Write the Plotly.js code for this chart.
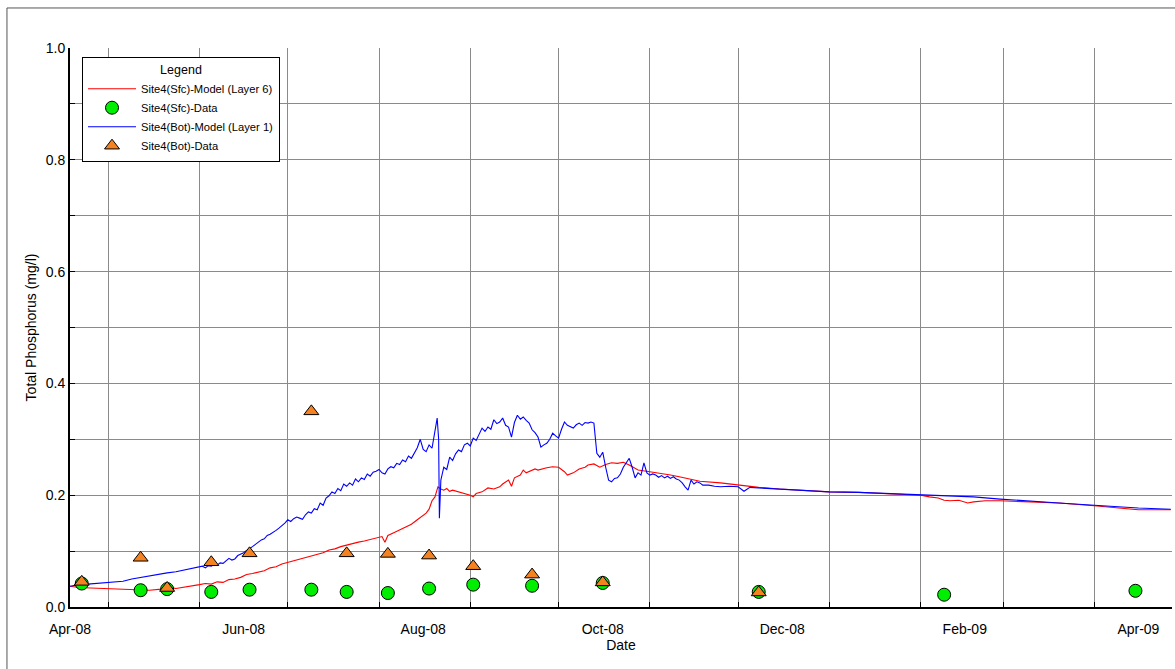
<!DOCTYPE html>
<html>
<head>
<meta charset="utf-8">
<script src="https://cdn.plot.ly/plotly-3.0.1.min.js"></script>
<style>html,body{margin:0;padding:0;background:#fff;}#chart{width:1175px;height:669px;}</style>
</head>
<body>
<div id="chart"></div>
<script>
// ---- Surface model (Layer 6) ----
const sfcModelDates = ['2008-04-18','2008-04-21','2008-04-25','2008-04-30','2008-05-05','2008-05-10','2008-05-15','2008-05-19','2008-05-21','2008-05-24','2008-05-28',
 '2008-06-01','2008-06-03','2008-06-05','2008-06-07','2008-06-09','2008-06-11','2008-06-13','2008-06-15','2008-06-17','2008-06-19','2008-06-21','2008-06-23','2008-06-25','2008-06-27','2008-06-29',
 '2008-07-01','2008-07-03','2008-07-05','2008-07-07','2008-07-09','2008-07-11','2008-07-13','2008-07-15','2008-07-17','2008-07-19','2008-07-21','2008-07-23','2008-07-25','2008-07-27','2008-07-29','2008-07-31',
 '2008-08-02','2008-08-03','2008-08-04','2008-08-06','2008-08-08','2008-08-10','2008-08-12','2008-08-14','2008-08-16','2008-08-17','2008-08-18','2008-08-19','2008-08-20','2008-08-21','2008-08-22','2008-08-23','2008-08-24','2008-08-25','2008-08-26','2008-08-28','2008-08-30',
 '2008-09-01','2008-09-02','2008-09-03','2008-09-05','2008-09-07','2008-09-09','2008-09-11','2008-09-12','2008-09-14','2008-09-15','2008-09-16','2008-09-18','2008-09-19','2008-09-20','2008-09-21','2008-09-23','2008-09-24','2008-09-26','2008-09-27','2008-09-29',
 '2008-10-01','2008-10-03','2008-10-04','2008-10-06','2008-10-08','2008-10-10','2008-10-11','2008-10-13','2008-10-15','2008-10-17','2008-10-19','2008-10-21','2008-10-23','2008-10-25','2008-10-27','2008-10-28',
 '2008-11-01','2008-11-04','2008-11-08','2008-11-11','2008-11-14','2008-11-18','2008-11-25','2008-12-01','2008-12-08','2008-12-15','2008-12-22',
 '2009-01-01','2009-01-11','2009-01-21','2009-02-01','2009-02-04','2009-02-07','2009-02-09','2009-02-11','2009-02-14','2009-02-17','2009-02-19','2009-02-23','2009-02-28','2009-03-10','2009-03-20','2009-04-01','2009-04-09','2009-04-16','2009-04-27'];
const sfcModel = [0.037,0.035,0.034,0.033,0.032,0.031,0.030,0.032,0.036,0.033,0.036,
 0.040,0.042,0.041,0.045,0.044,0.049,0.050,0.053,0.058,0.060,0.063,0.065,0.070,0.072,0.077,
 0.080,0.082,0.086,0.088,0.091,0.095,0.097,0.102,0.104,0.108,0.111,0.114,0.116,0.118,0.121,0.124,
 0.126,0.116,0.128,0.133,0.138,0.142,0.148,0.156,0.163,0.168,0.175,0.190,0.197,0.215,0.211,0.209,0.212,0.207,0.209,0.206,0.203,
 0.200,0.197,0.203,0.206,0.213,0.211,0.215,0.220,0.227,0.216,0.231,0.236,0.245,0.240,0.242,0.247,0.245,0.248,0.249,0.251,
 0.250,0.242,0.236,0.240,0.247,0.250,0.254,0.256,0.250,0.255,0.258,0.257,0.259,0.254,0.247,0.245,
 0.242,0.240,0.236,0.233,0.229,0.225,0.222,0.218,0.214,0.211,0.209,
 0.206,0.205,0.203,0.200,0.197,0.195,0.191,0.190,0.191,0.186,0.188,0.190,0.190,0.188,0.186,0.181,0.177,0.174,0.174];

// ---- Bottom model (Layer 1) ----
const botModelDates = ['2008-04-18','2008-04-21','2008-04-24','2008-04-27','2008-04-30','2008-05-03','2008-05-06','2008-05-09','2008-05-12','2008-05-15','2008-05-18','2008-05-21','2008-05-24','2008-05-27','2008-05-30',
 '2008-06-01','2008-06-02','2008-06-03','2008-06-04','2008-06-05','2008-06-06','2008-06-07','2008-06-08','2008-06-09','2008-06-10','2008-06-11','2008-06-12','2008-06-13','2008-06-14','2008-06-15','2008-06-16','2008-06-17','2008-06-18','2008-06-19','2008-06-20','2008-06-21','2008-06-22','2008-06-23','2008-06-24','2008-06-25','2008-06-26','2008-06-27','2008-06-28','2008-06-29','2008-06-30',
 '2008-07-01','2008-07-02','2008-07-03','2008-07-04','2008-07-05','2008-07-06','2008-07-07','2008-07-08','2008-07-09','2008-07-10','2008-07-11','2008-07-12','2008-07-13','2008-07-14','2008-07-15','2008-07-16','2008-07-17','2008-07-18','2008-07-19','2008-07-20','2008-07-21','2008-07-22','2008-07-23','2008-07-24','2008-07-25','2008-07-26','2008-07-27','2008-07-28','2008-07-29','2008-07-30','2008-07-31',
 '2008-08-01','2008-08-02','2008-08-03','2008-08-04','2008-08-05','2008-08-06','2008-08-07','2008-08-08','2008-08-09','2008-08-10','2008-08-11','2008-08-12','2008-08-13','2008-08-14','2008-08-15','2008-08-16','2008-08-17','2008-08-18','2008-08-19','2008-08-20','2008-08-20 18:00','2008-08-21 06:00','2008-08-21 12:00','2008-08-22','2008-08-23','2008-08-24','2008-08-25','2008-08-26','2008-08-27','2008-08-28','2008-08-29','2008-08-30','2008-08-31',
 '2008-09-01','2008-09-02','2008-09-03','2008-09-04','2008-09-05','2008-09-06','2008-09-07','2008-09-08','2008-09-09','2008-09-10','2008-09-11','2008-09-12','2008-09-13','2008-09-14','2008-09-15','2008-09-16','2008-09-17','2008-09-18','2008-09-19','2008-09-20','2008-09-21','2008-09-22','2008-09-23','2008-09-24','2008-09-25','2008-09-26','2008-09-27','2008-09-28','2008-09-29','2008-09-30',
 '2008-10-01','2008-10-02','2008-10-03','2008-10-04','2008-10-05','2008-10-06','2008-10-07','2008-10-08','2008-10-09','2008-10-10','2008-10-11','2008-10-12','2008-10-13','2008-10-13 12:00','2008-10-14','2008-10-15','2008-10-16','2008-10-17','2008-10-18','2008-10-19','2008-10-20','2008-10-21','2008-10-22','2008-10-23','2008-10-24','2008-10-25','2008-10-26','2008-10-27','2008-10-28','2008-10-29','2008-10-30','2008-10-31',
 '2008-11-01','2008-11-02','2008-11-03','2008-11-04','2008-11-05','2008-11-06','2008-11-07','2008-11-08','2008-11-09','2008-11-10','2008-11-11','2008-11-12','2008-11-13','2008-11-14','2008-11-15','2008-11-16','2008-11-17','2008-11-18','2008-11-19','2008-11-21','2008-11-23','2008-11-25','2008-11-28',
 '2008-12-01','2008-12-03','2008-12-05','2008-12-08','2008-12-15','2008-12-22','2009-01-01','2009-01-11','2009-01-21','2009-02-01','2009-02-11','2009-02-19','2009-02-28','2009-03-10','2009-03-20','2009-04-01','2009-04-09','2009-04-16','2009-04-27'];
const botModel = [0.037,0.040,0.041,0.042,0.044,0.045,0.046,0.050,0.053,0.055,0.058,0.061,0.063,0.066,0.069,
 0.071,0.073,0.070,0.074,0.073,0.076,0.075,0.079,0.078,0.083,0.087,0.084,0.086,0.092,0.094,0.097,0.101,0.104,0.108,0.112,0.116,0.120,0.122,0.128,0.130,0.133,0.137,0.141,0.145,0.150,
 0.156,0.153,0.158,0.161,0.159,0.157,0.165,0.170,0.168,0.176,0.174,0.186,0.182,0.195,0.199,0.206,0.203,0.212,0.208,0.220,0.216,0.222,0.218,0.229,0.224,0.231,0.228,0.238,0.234,0.241,0.243,
 0.246,0.240,0.238,0.247,0.251,0.249,0.257,0.255,0.263,0.260,0.270,0.266,0.276,0.285,0.300,0.282,0.278,0.290,0.284,0.318,0.338,0.300,0.159,0.227,0.250,0.246,0.268,0.262,0.274,0.281,0.278,0.290,0.293,
 0.288,0.302,0.298,0.310,0.320,0.314,0.322,0.318,0.335,0.328,0.331,0.338,0.325,0.322,0.304,0.330,0.343,0.336,0.340,0.334,0.329,0.317,0.312,0.304,0.286,0.290,0.293,0.300,0.311,0.306,
 0.302,0.318,0.331,0.325,0.322,0.320,0.326,0.329,0.325,0.330,0.329,0.331,0.329,0.300,0.275,0.268,0.277,0.250,0.227,0.224,0.230,0.231,0.238,0.250,0.258,0.266,0.250,0.231,0.240,0.236,0.258,0.240,
 0.236,0.238,0.236,0.232,0.235,0.231,0.234,0.230,0.233,0.229,0.227,0.222,0.215,0.209,0.227,0.220,0.224,0.222,0.218,0.218,0.216,0.215,0.216,
 0.215,0.207,0.214,0.213,0.211,0.209,0.206,0.205,0.203,0.201,0.199,0.197,0.193,0.190,0.186,0.182,0.179,0.177,0.175];

// ---- Observed data ----
const sfcDataDates = ['2008-04-22','2008-05-12','2008-05-21','2008-06-05','2008-06-18','2008-07-09','2008-07-21','2008-08-04','2008-08-18','2008-09-02','2008-09-22','2008-10-16','2008-12-08','2009-02-09','2009-04-15'];
const sfcData = [0.042,0.030,0.032,0.027,0.031,0.031,0.027,0.025,0.033,0.040,0.038,0.043,0.027,0.022,0.029];
const botDataDates = ['2008-04-22','2008-05-12','2008-05-21','2008-06-05','2008-06-18','2008-07-09','2008-07-21','2008-08-04','2008-08-18','2008-09-02','2008-09-22','2008-10-16','2008-12-08'];
const botData = [0.045,0.088,0.034,0.080,0.096,0.350,0.096,0.095,0.092,0.073,0.058,0.044,0.026];

// ---- Axis labels ----
const xTickVals = ['2008-04-18','2008-06-16','2008-08-16','2008-10-16','2008-12-16','2009-02-16','2009-04-16'];
const xTickText = ['Apr-08','Jun-08','Aug-08','Oct-08','Dec-08','Feb-09','Apr-09'];
const yTickVals = [0,0.2,0.4,0.6,0.8,1.0];
const yTickText = ['0.0','0.2','0.4','0.6','0.8','1.0'];

const FONT = 'Liberation Sans, Arial, sans-serif';

const traces = [
  {x: sfcModelDates, y: sfcModel, type:'scatter', mode:'lines', name:'Site4(Sfc)-Model (Layer 6)',
   line:{color:'#ff0000', width:1.1}, legendrank:1},
  {x: botModelDates, y: botModel, type:'scatter', mode:'lines', name:'Site4(Bot)-Model (Layer 1)',
   line:{color:'#0000ff', width:1.1}, legendrank:3},
  {x: sfcDataDates, y: sfcData, type:'scatter', mode:'markers', name:'Site4(Sfc)-Data',
   marker:{symbol:'circle', size:13, color:'#00ee00', line:{color:'#000', width:1}}, legendrank:2},
  {x: botDataDates, y: botData, type:'scatter', mode:'markers', name:'Site4(Bot)-Data',
   marker:{symbol:'triangle-up', size:13, color:'#f58220', line:{color:'#000', width:1}}, legendrank:4}
];

const layout = {
  width:1175, height:669,
  margin:{l:70, r:3, t:48, b:62},
  paper_bgcolor:'#fff', plot_bgcolor:'#fff',
  font:{family:FONT, size:14, color:'#000'},
  showlegend:true,
  legend:{x:0.0109, y:0.984, xanchor:'left', yanchor:'top',
    bgcolor:'#fff', bordercolor:'#000', borderwidth:1,
    font:{family:FONT, size:11.2, color:'#000'},
    title:{text:'Legend', side:'top center', font:{family:FONT, size:12.5, color:'#000'}},
    itemwidth:48, tracegroupgap:0},
  xaxis:{
    type:'date', range:['2008-04-18','2009-04-27 10:00'],
    tickmode:'array', tickvals:xTickVals, ticktext:xTickText,
    ticks:'', showgrid:false, zeroline:false, ticklabelstandoff:8,
    showline:true, linecolor:'#000', linewidth:2,
    tickfont:{family:FONT, size:14, color:'#000'},
    minor:{tickmode:'linear', tick0:'2008-05-01', dtick:'M1', showgrid:true,
      gridcolor:'#8a8a8a', gridwidth:1, ticks:'inside', ticklen:5, tickcolor:'#000', tickwidth:1},
    title:{text:'Date', font:{family:FONT, size:14, color:'#000'}, standoff:2}
  },
  yaxis:{
    range:[0,1], tickmode:'array', tickvals:yTickVals, ticktext:yTickText,
    ticks:'inside', ticklen:5, tickcolor:'#000',
    showgrid:true, gridcolor:'#8a8a8a', gridwidth:1, zeroline:false,
    showline:true, linecolor:'#000', linewidth:2,
    tickfont:{family:FONT, size:14, color:'#000'},
    minor:{dtick:0.1, tick0:0, showgrid:true, gridcolor:'#8a8a8a', gridwidth:1,
      ticks:'inside', ticklen:5, tickcolor:'#000'},
    title:{text:'Total Phosphorus (mg/l)', font:{family:FONT, size:14, color:'#000'}, standoff:6}
  },
  shapes:[
    {type:'rect', xref:'paper', yref:'paper', x0:-0.0572, x1:1.01, y0:-0.2, y1:1.0716,
     line:{color:'#555', width:1}, fillcolor:'rgba(0,0,0,0)', layer:'below'}
  ]
};

Plotly.newPlot('chart', traces, layout, {displayModeBar:false, staticPlot:true});
</script>
</body>
</html>
